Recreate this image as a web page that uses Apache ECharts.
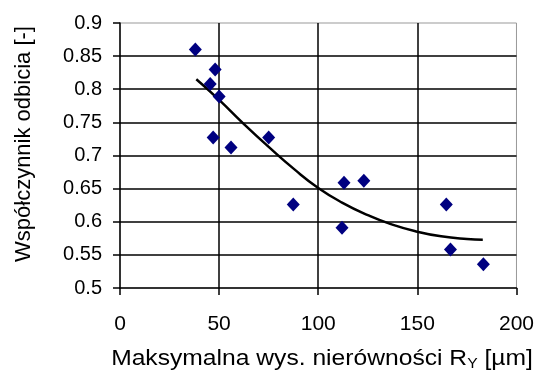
<!DOCTYPE html>
<html>
<head>
<meta charset="utf-8">
<script src="https://cdn.jsdelivr.net/npm/echarts@6/dist/echarts.min.js"></script>
<style>html,body{margin:0;padding:0;background:#fff}#c{width:537px;height:371px}</style>
</head>
<body>
<div id="c"></div>
<script>
const pointsX = [38, 48, 45.5, 50, 47, 56, 75, 87.4, 113, 123, 112, 164.6, 166.7, 183.3];
const pointsY = [0.860, 0.830, 0.808, 0.789, 0.727, 0.712, 0.727, 0.626, 0.659, 0.662, 0.591, 0.626, 0.558, 0.536];
const trendX = [38.5, 50, 62, 75, 88, 100, 112, 125, 137, 150, 162, 175, 183];
const trendY = [0.815, 0.784, 0.749, 0.713, 0.679, 0.651, 0.629, 0.610, 0.596, 0.585, 0.578, 0.574, 0.573];
const xTitle = 'Maksymalna wys. nierówności R';
const xTitleSub = 'Y';
const xTitleEnd = ' [µm]';
const yTitle = 'Współczynnik odbicia [-]';

const chart = echarts.init(document.getElementById('c'), null, {renderer: 'canvas'});
const font = 'Liberation Sans, Arial, sans-serif';
chart.setOption({
  animation: false,
  backgroundColor: '#fff',
  grid: {left: 120, right: 20, top: 23, bottom: 83, show: true, borderColor: '#999', borderWidth: 1},
  xAxis: {
    type: 'value', min: 0, max: 200, interval: 50,
    axisLine: {show: true, onZero: false, lineStyle: {color: '#000', width: 1.5}},
    axisTick: {show: true, length: 7, lineStyle: {color: '#000', width: 1.5}},
    axisLabel: {color: '#000', fontFamily: font, fontSize: 21, margin: 26},
    splitLine: {show: true, showMinLine: false, showMaxLine: false, lineStyle: {color: '#000', width: 1.5}}
  },
  yAxis: {
    type: 'value', min: 0.5, max: 0.9, interval: 0.05,
    axisLine: {show: true, onZero: false, lineStyle: {color: '#000', width: 1.5}},
    axisTick: {show: true, length: 7, lineStyle: {color: '#000', width: 1.5}},
    axisLabel: {color: '#000', fontFamily: font, fontSize: 20, margin: 18},
    splitLine: {show: true, showMinLine: false, showMaxLine: false, lineStyle: {color: '#000', width: 1.5}}
  },
  graphic: [
    {type: 'text', x: 322, y: 359, scaleX: 1.12, style: {
      text: '{a|' + xTitle + '}{s|' + xTitleSub + '}{a|' + xTitleEnd + '}',
      rich: {a: {fontFamily: font, fontSize: 22, fill: '#000'}, s: {fontFamily: font, fontSize: 14, fill: '#000', padding: [10, 0, 0, 0]}},
      fill: '#000', font: '22px ' + font, align: 'center', verticalAlign: 'middle'
    }},
    {type: 'text', x: 24, y: 144, rotation: Math.PI / 2, style: {
      text: yTitle, fill: '#000', font: '22px ' + font, align: 'center', verticalAlign: 'middle'
    }}
  ],
  series: [
    {type: 'line', data: trendX.map((x, i) => [x, trendY[i]]), smooth: true, showSymbol: false,
     lineStyle: {color: '#000', width: 2.5}, z: 3},
    {type: 'scatter', data: pointsX.map((x, i) => [x, pointsY[i]]), symbol: 'diamond', symbolSize: [13, 14],
     itemStyle: {color: '#000080', opacity: 1}, z: 4}
  ]
});
</script>
</body>
</html>
